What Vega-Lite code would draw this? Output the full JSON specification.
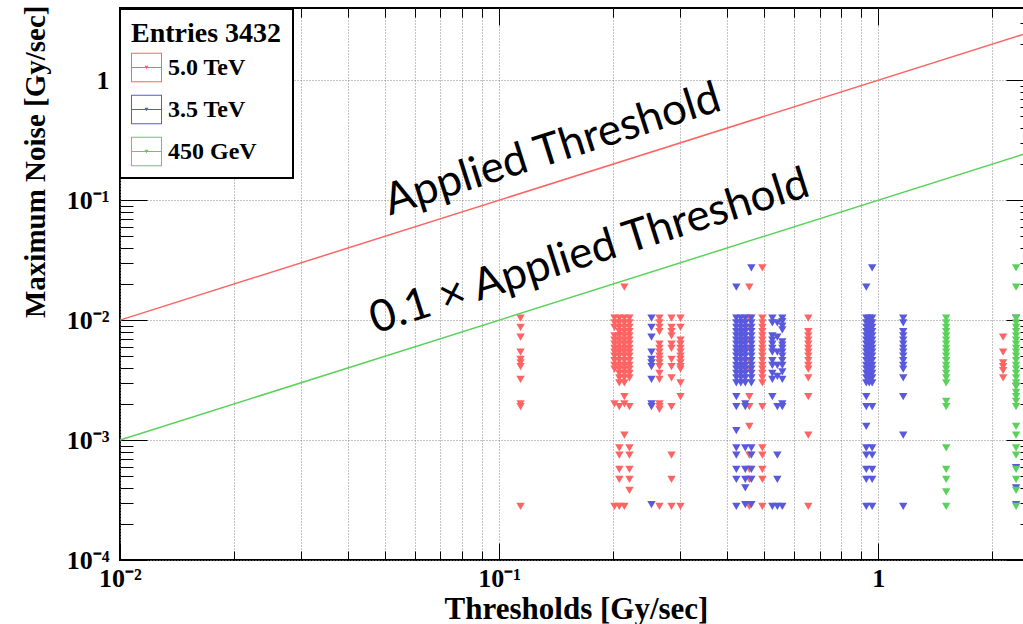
{
"$schema": "https://vega.github.io/schema/vega-lite/v6.json",
"width": 913, "height": 552,
"autosize": {"type": "none"},
"padding": {"left": 120, "top": 8, "right": -10, "bottom": 64},
"background": "white",
"config": {"view": {"stroke": "black", "strokeWidth": 2}, "legend": {"strokeWidth": 2}},
"datasets": {
"pts": [
{"t":0.1139,"n":0.0104,"e":"5.0 TeV"},{"t":0.1139,"n":0.0087,"e":"5.0 TeV"},{"t":0.1139,"n":0.0072,"e":"5.0 TeV"},{"t":0.1139,"n":0.0054,"e":"5.0 TeV"},{"t":0.1139,"n":0.0047,"e":"5.0 TeV"},{"t":0.1139,"n":0.0044,"e":"5.0 TeV"},{"t":0.1139,"n":0.0041,"e":"5.0 TeV"},{"t":0.1139,"n":0.0032,"e":"5.0 TeV"},{"t":0.1139,"n":0.002,"e":"5.0 TeV"},{"t":0.1139,"n":0.0019,"e":"5.0 TeV"},{"t":0.1139,"n":0.00028,"e":"5.0 TeV"},
{"t":0.2015,"n":0.0104,"e":"5.0 TeV"},{"t":0.2015,"n":0.0095,"e":"5.0 TeV"},{"t":0.2015,"n":0.0087,"e":"5.0 TeV"},{"t":0.2015,"n":0.0074,"e":"5.0 TeV"},{"t":0.2015,"n":0.0068,"e":"5.0 TeV"},{"t":0.2015,"n":0.0063,"e":"5.0 TeV"},{"t":0.2015,"n":0.0058,"e":"5.0 TeV"},{"t":0.2015,"n":0.0054,"e":"5.0 TeV"},{"t":0.2015,"n":0.005,"e":"5.0 TeV"},{"t":0.2015,"n":0.0046,"e":"5.0 TeV"},{"t":0.2015,"n":0.0042,"e":"5.0 TeV"},{"t":0.2015,"n":0.0039,"e":"5.0 TeV"},{"t":0.2015,"n":0.002,"e":"5.0 TeV"},{"t":0.2015,"n":0.00028,"e":"5.0 TeV"},
{"t":0.2075,"n":0.0104,"e":"5.0 TeV"},{"t":0.2075,"n":0.0095,"e":"5.0 TeV"},{"t":0.2075,"n":0.0087,"e":"5.0 TeV"},{"t":0.2075,"n":0.008,"e":"5.0 TeV"},{"t":0.2075,"n":0.0074,"e":"5.0 TeV"},{"t":0.2075,"n":0.0068,"e":"5.0 TeV"},{"t":0.2075,"n":0.0063,"e":"5.0 TeV"},{"t":0.2075,"n":0.0058,"e":"5.0 TeV"},{"t":0.2075,"n":0.0054,"e":"5.0 TeV"},{"t":0.2075,"n":0.005,"e":"5.0 TeV"},{"t":0.2075,"n":0.0046,"e":"5.0 TeV"},{"t":0.2075,"n":0.0042,"e":"5.0 TeV"},{"t":0.2075,"n":0.0039,"e":"5.0 TeV"},{"t":0.2075,"n":0.0036,"e":"5.0 TeV"},{"t":0.2075,"n":0.0033,"e":"5.0 TeV"},{"t":0.2075,"n":0.003,"e":"5.0 TeV"},{"t":0.2075,"n":0.0019,"e":"5.0 TeV"},{"t":0.2075,"n":0.00086,"e":"5.0 TeV"},{"t":0.2075,"n":0.00075,"e":"5.0 TeV"},{"t":0.2075,"n":0.00057,"e":"5.0 TeV"},{"t":0.2075,"n":0.00047,"e":"5.0 TeV"},{"t":0.2075,"n":0.00028,"e":"5.0 TeV"},
{"t":0.214,"n":0.0188,"e":"5.0 TeV"},{"t":0.214,"n":0.0104,"e":"5.0 TeV"},{"t":0.214,"n":0.0095,"e":"5.0 TeV"},{"t":0.214,"n":0.0087,"e":"5.0 TeV"},{"t":0.214,"n":0.008,"e":"5.0 TeV"},{"t":0.214,"n":0.0074,"e":"5.0 TeV"},{"t":0.214,"n":0.0068,"e":"5.0 TeV"},{"t":0.214,"n":0.0063,"e":"5.0 TeV"},{"t":0.214,"n":0.0058,"e":"5.0 TeV"},{"t":0.214,"n":0.0054,"e":"5.0 TeV"},{"t":0.214,"n":0.005,"e":"5.0 TeV"},{"t":0.214,"n":0.0046,"e":"5.0 TeV"},{"t":0.214,"n":0.0042,"e":"5.0 TeV"},{"t":0.214,"n":0.0039,"e":"5.0 TeV"},{"t":0.214,"n":0.0036,"e":"5.0 TeV"},{"t":0.214,"n":0.0033,"e":"5.0 TeV"},{"t":0.214,"n":0.003,"e":"5.0 TeV"},{"t":0.214,"n":0.0023,"e":"5.0 TeV"},{"t":0.214,"n":0.002,"e":"5.0 TeV"},{"t":0.214,"n":0.0011,"e":"5.0 TeV"},{"t":0.214,"n":0.00028,"e":"5.0 TeV"},
{"t":0.2207,"n":0.0104,"e":"5.0 TeV"},{"t":0.2207,"n":0.0095,"e":"5.0 TeV"},{"t":0.2207,"n":0.0087,"e":"5.0 TeV"},{"t":0.2207,"n":0.008,"e":"5.0 TeV"},{"t":0.2207,"n":0.0074,"e":"5.0 TeV"},{"t":0.2207,"n":0.0068,"e":"5.0 TeV"},{"t":0.2207,"n":0.0063,"e":"5.0 TeV"},{"t":0.2207,"n":0.0058,"e":"5.0 TeV"},{"t":0.2207,"n":0.0054,"e":"5.0 TeV"},{"t":0.2207,"n":0.005,"e":"5.0 TeV"},{"t":0.2207,"n":0.0046,"e":"5.0 TeV"},{"t":0.2207,"n":0.0042,"e":"5.0 TeV"},{"t":0.2207,"n":0.0039,"e":"5.0 TeV"},{"t":0.2207,"n":0.0036,"e":"5.0 TeV"},{"t":0.2207,"n":0.0033,"e":"5.0 TeV"},{"t":0.2207,"n":0.0019,"e":"5.0 TeV"},{"t":0.2207,"n":0.00086,"e":"5.0 TeV"},{"t":0.2207,"n":0.00075,"e":"5.0 TeV"},{"t":0.2207,"n":0.00057,"e":"5.0 TeV"},{"t":0.2207,"n":0.00047,"e":"5.0 TeV"},{"t":0.2207,"n":0.00038,"e":"5.0 TeV"},
{"t":0.2648,"n":0.0104,"e":"5.0 TeV"},{"t":0.2648,"n":0.0095,"e":"5.0 TeV"},{"t":0.2648,"n":0.0087,"e":"5.0 TeV"},{"t":0.2648,"n":0.008,"e":"5.0 TeV"},{"t":0.2648,"n":0.0063,"e":"5.0 TeV"},{"t":0.2648,"n":0.0058,"e":"5.0 TeV"},{"t":0.2648,"n":0.0054,"e":"5.0 TeV"},{"t":0.2648,"n":0.005,"e":"5.0 TeV"},{"t":0.2648,"n":0.0047,"e":"5.0 TeV"},{"t":0.2648,"n":0.0044,"e":"5.0 TeV"},{"t":0.2648,"n":0.0041,"e":"5.0 TeV"},{"t":0.2648,"n":0.0036,"e":"5.0 TeV"},{"t":0.2648,"n":0.0032,"e":"5.0 TeV"},{"t":0.2648,"n":0.002,"e":"5.0 TeV"},{"t":0.2648,"n":0.0019,"e":"5.0 TeV"},{"t":0.2648,"n":0.0018,"e":"5.0 TeV"},{"t":0.2648,"n":0.00028,"e":"5.0 TeV"},
{"t":0.2849,"n":0.0104,"e":"5.0 TeV"},{"t":0.2849,"n":0.0087,"e":"5.0 TeV"},{"t":0.2849,"n":0.008,"e":"5.0 TeV"},{"t":0.2849,"n":0.0074,"e":"5.0 TeV"},{"t":0.2849,"n":0.0063,"e":"5.0 TeV"},{"t":0.2849,"n":0.0058,"e":"5.0 TeV"},{"t":0.2849,"n":0.0047,"e":"5.0 TeV"},{"t":0.2849,"n":0.0041,"e":"5.0 TeV"},{"t":0.2849,"n":0.0033,"e":"5.0 TeV"},{"t":0.2849,"n":0.0019,"e":"5.0 TeV"},{"t":0.2849,"n":0.00075,"e":"5.0 TeV"},{"t":0.2849,"n":0.00047,"e":"5.0 TeV"},{"t":0.2849,"n":0.00028,"e":"5.0 TeV"},
{"t":0.3009,"n":0.0104,"e":"5.0 TeV"},{"t":0.3009,"n":0.0087,"e":"5.0 TeV"},{"t":0.3009,"n":0.0068,"e":"5.0 TeV"},{"t":0.3009,"n":0.0063,"e":"5.0 TeV"},{"t":0.3009,"n":0.0058,"e":"5.0 TeV"},{"t":0.3009,"n":0.0054,"e":"5.0 TeV"},{"t":0.3009,"n":0.005,"e":"5.0 TeV"},{"t":0.3009,"n":0.0047,"e":"5.0 TeV"},{"t":0.3009,"n":0.0044,"e":"5.0 TeV"},{"t":0.3009,"n":0.0041,"e":"5.0 TeV"},{"t":0.3009,"n":0.0039,"e":"5.0 TeV"},{"t":0.3009,"n":0.003,"e":"5.0 TeV"},{"t":0.3009,"n":0.0023,"e":"5.0 TeV"},{"t":0.3009,"n":0.00028,"e":"5.0 TeV"},
{"t":0.4571,"n":0.0188,"e":"5.0 TeV"},{"t":0.4571,"n":0.0104,"e":"5.0 TeV"},{"t":0.4571,"n":0.0087,"e":"5.0 TeV"},{"t":0.4571,"n":0.0068,"e":"5.0 TeV"},{"t":0.4571,"n":0.0058,"e":"5.0 TeV"},{"t":0.4571,"n":0.0046,"e":"5.0 TeV"},{"t":0.4571,"n":0.0039,"e":"5.0 TeV"},{"t":0.4571,"n":0.0023,"e":"5.0 TeV"},{"t":0.4571,"n":0.0019,"e":"5.0 TeV"},{"t":0.4571,"n":0.0013,"e":"5.0 TeV"},{"t":0.4571,"n":0.00075,"e":"5.0 TeV"},{"t":0.4571,"n":0.00057,"e":"5.0 TeV"},{"t":0.4571,"n":0.00047,"e":"5.0 TeV"},{"t":0.4571,"n":0.00028,"e":"5.0 TeV"},
{"t":0.4947,"n":0.0273,"e":"5.0 TeV"},{"t":0.4947,"n":0.0104,"e":"5.0 TeV"},{"t":0.4947,"n":0.0095,"e":"5.0 TeV"},{"t":0.4947,"n":0.0087,"e":"5.0 TeV"},{"t":0.4947,"n":0.008,"e":"5.0 TeV"},{"t":0.4947,"n":0.0074,"e":"5.0 TeV"},{"t":0.4947,"n":0.0068,"e":"5.0 TeV"},{"t":0.4947,"n":0.0063,"e":"5.0 TeV"},{"t":0.4947,"n":0.0058,"e":"5.0 TeV"},{"t":0.4947,"n":0.0054,"e":"5.0 TeV"},{"t":0.4947,"n":0.005,"e":"5.0 TeV"},{"t":0.4947,"n":0.0046,"e":"5.0 TeV"},{"t":0.4947,"n":0.0042,"e":"5.0 TeV"},{"t":0.4947,"n":0.0039,"e":"5.0 TeV"},{"t":0.4947,"n":0.0036,"e":"5.0 TeV"},{"t":0.4947,"n":0.0033,"e":"5.0 TeV"},{"t":0.4947,"n":0.003,"e":"5.0 TeV"},{"t":0.4947,"n":0.0019,"e":"5.0 TeV"},{"t":0.4947,"n":0.00086,"e":"5.0 TeV"},{"t":0.4947,"n":0.00075,"e":"5.0 TeV"},{"t":0.4947,"n":0.00057,"e":"5.0 TeV"},{"t":0.4947,"n":0.00047,"e":"5.0 TeV"},{"t":0.4947,"n":0.00028,"e":"5.0 TeV"},
{"t":0.654,"n":0.0104,"e":"5.0 TeV"},{"t":0.654,"n":0.008,"e":"5.0 TeV"},{"t":0.654,"n":0.0074,"e":"5.0 TeV"},{"t":0.654,"n":0.0068,"e":"5.0 TeV"},{"t":0.654,"n":0.0063,"e":"5.0 TeV"},{"t":0.654,"n":0.0058,"e":"5.0 TeV"},{"t":0.654,"n":0.0054,"e":"5.0 TeV"},{"t":0.654,"n":0.005,"e":"5.0 TeV"},{"t":0.654,"n":0.0046,"e":"5.0 TeV"},{"t":0.654,"n":0.0042,"e":"5.0 TeV"},{"t":0.654,"n":0.0039,"e":"5.0 TeV"},{"t":0.654,"n":0.0033,"e":"5.0 TeV"},{"t":0.654,"n":0.0023,"e":"5.0 TeV"},{"t":0.654,"n":0.0011,"e":"5.0 TeV"},{"t":0.654,"n":0.00028,"e":"5.0 TeV"},
{"t":2.135,"n":0.0072,"e":"5.0 TeV"},{"t":2.135,"n":0.0054,"e":"5.0 TeV"},{"t":2.135,"n":0.0044,"e":"5.0 TeV"},{"t":2.135,"n":0.0041,"e":"5.0 TeV"},{"t":2.135,"n":0.0038,"e":"5.0 TeV"},{"t":2.135,"n":0.0033,"e":"5.0 TeV"},
{"t":0.2523,"n":0.0104,"e":"3.5 TeV"},{"t":0.2523,"n":0.0087,"e":"3.5 TeV"},{"t":0.2523,"n":0.0072,"e":"3.5 TeV"},{"t":0.2523,"n":0.0054,"e":"3.5 TeV"},{"t":0.2523,"n":0.0047,"e":"3.5 TeV"},{"t":0.2523,"n":0.0044,"e":"3.5 TeV"},{"t":0.2523,"n":0.0041,"e":"3.5 TeV"},{"t":0.2523,"n":0.0032,"e":"3.5 TeV"},{"t":0.2523,"n":0.002,"e":"3.5 TeV"},{"t":0.2523,"n":0.0019,"e":"3.5 TeV"},{"t":0.2523,"n":0.00029,"e":"3.5 TeV"},
{"t":0.4224,"n":0.0188,"e":"3.5 TeV"},{"t":0.4224,"n":0.0104,"e":"3.5 TeV"},{"t":0.4224,"n":0.0095,"e":"3.5 TeV"},{"t":0.4224,"n":0.0087,"e":"3.5 TeV"},{"t":0.4224,"n":0.008,"e":"3.5 TeV"},{"t":0.4224,"n":0.0074,"e":"3.5 TeV"},{"t":0.4224,"n":0.0068,"e":"3.5 TeV"},{"t":0.4224,"n":0.0063,"e":"3.5 TeV"},{"t":0.4224,"n":0.0058,"e":"3.5 TeV"},{"t":0.4224,"n":0.0054,"e":"3.5 TeV"},{"t":0.4224,"n":0.005,"e":"3.5 TeV"},{"t":0.4224,"n":0.0046,"e":"3.5 TeV"},{"t":0.4224,"n":0.0042,"e":"3.5 TeV"},{"t":0.4224,"n":0.0039,"e":"3.5 TeV"},{"t":0.4224,"n":0.0036,"e":"3.5 TeV"},{"t":0.4224,"n":0.0033,"e":"3.5 TeV"},{"t":0.4224,"n":0.003,"e":"3.5 TeV"},{"t":0.4224,"n":0.0023,"e":"3.5 TeV"},{"t":0.4224,"n":0.0019,"e":"3.5 TeV"},{"t":0.4224,"n":0.0012,"e":"3.5 TeV"},{"t":0.4224,"n":0.00086,"e":"3.5 TeV"},{"t":0.4224,"n":0.00075,"e":"3.5 TeV"},{"t":0.4224,"n":0.00057,"e":"3.5 TeV"},{"t":0.4224,"n":0.00047,"e":"3.5 TeV"},{"t":0.4224,"n":0.00028,"e":"3.5 TeV"},
{"t":0.434,"n":0.0104,"e":"3.5 TeV"},{"t":0.434,"n":0.0095,"e":"3.5 TeV"},{"t":0.434,"n":0.0087,"e":"3.5 TeV"},{"t":0.434,"n":0.008,"e":"3.5 TeV"},{"t":0.434,"n":0.0074,"e":"3.5 TeV"},{"t":0.434,"n":0.0068,"e":"3.5 TeV"},{"t":0.434,"n":0.0063,"e":"3.5 TeV"},{"t":0.434,"n":0.0058,"e":"3.5 TeV"},{"t":0.434,"n":0.0054,"e":"3.5 TeV"},{"t":0.434,"n":0.005,"e":"3.5 TeV"},{"t":0.434,"n":0.0046,"e":"3.5 TeV"},{"t":0.434,"n":0.0042,"e":"3.5 TeV"},{"t":0.434,"n":0.0039,"e":"3.5 TeV"},{"t":0.434,"n":0.0036,"e":"3.5 TeV"},{"t":0.434,"n":0.0033,"e":"3.5 TeV"},{"t":0.434,"n":0.003,"e":"3.5 TeV"},
{"t":0.446,"n":0.0104,"e":"3.5 TeV"},{"t":0.446,"n":0.0095,"e":"3.5 TeV"},{"t":0.446,"n":0.0087,"e":"3.5 TeV"},{"t":0.446,"n":0.008,"e":"3.5 TeV"},{"t":0.446,"n":0.0074,"e":"3.5 TeV"},{"t":0.446,"n":0.0068,"e":"3.5 TeV"},{"t":0.446,"n":0.0063,"e":"3.5 TeV"},{"t":0.446,"n":0.0058,"e":"3.5 TeV"},{"t":0.446,"n":0.0054,"e":"3.5 TeV"},{"t":0.446,"n":0.005,"e":"3.5 TeV"},{"t":0.446,"n":0.0046,"e":"3.5 TeV"},{"t":0.446,"n":0.0042,"e":"3.5 TeV"},{"t":0.446,"n":0.0039,"e":"3.5 TeV"},{"t":0.446,"n":0.0036,"e":"3.5 TeV"},{"t":0.446,"n":0.0033,"e":"3.5 TeV"},{"t":0.446,"n":0.003,"e":"3.5 TeV"},{"t":0.446,"n":0.002,"e":"3.5 TeV"},{"t":0.446,"n":0.0019,"e":"3.5 TeV"},{"t":0.446,"n":0.00086,"e":"3.5 TeV"},{"t":0.446,"n":0.00057,"e":"3.5 TeV"},{"t":0.446,"n":0.00047,"e":"3.5 TeV"},{"t":0.446,"n":0.0004,"e":"3.5 TeV"},{"t":0.446,"n":0.00029,"e":"3.5 TeV"},
{"t":0.4628,"n":0.0273,"e":"3.5 TeV"},{"t":0.4628,"n":0.0104,"e":"3.5 TeV"},{"t":0.4628,"n":0.0095,"e":"3.5 TeV"},{"t":0.4628,"n":0.0087,"e":"3.5 TeV"},{"t":0.4628,"n":0.008,"e":"3.5 TeV"},{"t":0.4628,"n":0.0074,"e":"3.5 TeV"},{"t":0.4628,"n":0.0068,"e":"3.5 TeV"},{"t":0.4628,"n":0.0063,"e":"3.5 TeV"},{"t":0.4628,"n":0.0058,"e":"3.5 TeV"},{"t":0.4628,"n":0.0054,"e":"3.5 TeV"},{"t":0.4628,"n":0.005,"e":"3.5 TeV"},{"t":0.4628,"n":0.0046,"e":"3.5 TeV"},{"t":0.4628,"n":0.0042,"e":"3.5 TeV"},{"t":0.4628,"n":0.0039,"e":"3.5 TeV"},{"t":0.4628,"n":0.0036,"e":"3.5 TeV"},{"t":0.4628,"n":0.0033,"e":"3.5 TeV"},{"t":0.4628,"n":0.003,"e":"3.5 TeV"},{"t":0.4628,"n":0.00086,"e":"3.5 TeV"},{"t":0.4628,"n":0.00075,"e":"3.5 TeV"},{"t":0.4628,"n":0.00057,"e":"3.5 TeV"},{"t":0.4628,"n":0.00047,"e":"3.5 TeV"},{"t":0.4628,"n":0.00029,"e":"3.5 TeV"},
{"t":0.5257,"n":0.0104,"e":"3.5 TeV"},{"t":0.5257,"n":0.0095,"e":"3.5 TeV"},{"t":0.5257,"n":0.0074,"e":"3.5 TeV"},{"t":0.5257,"n":0.0068,"e":"3.5 TeV"},{"t":0.5257,"n":0.0063,"e":"3.5 TeV"},{"t":0.5257,"n":0.0058,"e":"3.5 TeV"},{"t":0.5257,"n":0.0054,"e":"3.5 TeV"},{"t":0.5257,"n":0.0046,"e":"3.5 TeV"},{"t":0.5257,"n":0.0042,"e":"3.5 TeV"},{"t":0.5257,"n":0.0036,"e":"3.5 TeV"},{"t":0.5257,"n":0.0032,"e":"3.5 TeV"},{"t":0.5257,"n":0.0023,"e":"3.5 TeV"},{"t":0.5257,"n":0.00028,"e":"3.5 TeV"},
{"t":0.5419,"n":0.0095,"e":"3.5 TeV"},{"t":0.5419,"n":0.0072,"e":"3.5 TeV"},{"t":0.5419,"n":0.0054,"e":"3.5 TeV"},{"t":0.5419,"n":0.0042,"e":"3.5 TeV"},{"t":0.5419,"n":0.0034,"e":"3.5 TeV"},{"t":0.5419,"n":0.0019,"e":"3.5 TeV"},{"t":0.5419,"n":0.00075,"e":"3.5 TeV"},{"t":0.5419,"n":0.00047,"e":"3.5 TeV"},{"t":0.5419,"n":0.00028,"e":"3.5 TeV"},
{"t":0.5585,"n":0.0104,"e":"3.5 TeV"},{"t":0.5585,"n":0.0097,"e":"3.5 TeV"},{"t":0.5585,"n":0.0089,"e":"3.5 TeV"},{"t":0.5585,"n":0.0083,"e":"3.5 TeV"},{"t":0.5585,"n":0.0066,"e":"3.5 TeV"},{"t":0.5585,"n":0.0062,"e":"3.5 TeV"},{"t":0.5585,"n":0.0058,"e":"3.5 TeV"},{"t":0.5585,"n":0.0054,"e":"3.5 TeV"},{"t":0.5585,"n":0.005,"e":"3.5 TeV"},{"t":0.5585,"n":0.0046,"e":"3.5 TeV"},{"t":0.5585,"n":0.0042,"e":"3.5 TeV"},{"t":0.5585,"n":0.0037,"e":"3.5 TeV"},{"t":0.5585,"n":0.0032,"e":"3.5 TeV"},{"t":0.5585,"n":0.002,"e":"3.5 TeV"},{"t":0.5585,"n":0.0019,"e":"3.5 TeV"},{"t":0.5585,"n":0.00028,"e":"3.5 TeV"},
{"t":0.93,"n":0.0188,"e":"3.5 TeV"},{"t":0.93,"n":0.0104,"e":"3.5 TeV"},{"t":0.93,"n":0.0095,"e":"3.5 TeV"},{"t":0.93,"n":0.0087,"e":"3.5 TeV"},{"t":0.93,"n":0.008,"e":"3.5 TeV"},{"t":0.93,"n":0.0074,"e":"3.5 TeV"},{"t":0.93,"n":0.0068,"e":"3.5 TeV"},{"t":0.93,"n":0.0063,"e":"3.5 TeV"},{"t":0.93,"n":0.0058,"e":"3.5 TeV"},{"t":0.93,"n":0.0054,"e":"3.5 TeV"},{"t":0.93,"n":0.005,"e":"3.5 TeV"},{"t":0.93,"n":0.0046,"e":"3.5 TeV"},{"t":0.93,"n":0.0042,"e":"3.5 TeV"},{"t":0.93,"n":0.0039,"e":"3.5 TeV"},{"t":0.93,"n":0.0036,"e":"3.5 TeV"},{"t":0.93,"n":0.0033,"e":"3.5 TeV"},{"t":0.93,"n":0.003,"e":"3.5 TeV"},{"t":0.93,"n":0.0023,"e":"3.5 TeV"},{"t":0.93,"n":0.0019,"e":"3.5 TeV"},{"t":0.93,"n":0.0013,"e":"3.5 TeV"},{"t":0.93,"n":0.00086,"e":"3.5 TeV"},{"t":0.93,"n":0.00075,"e":"3.5 TeV"},{"t":0.93,"n":0.00057,"e":"3.5 TeV"},{"t":0.93,"n":0.00047,"e":"3.5 TeV"},{"t":0.93,"n":0.00028,"e":"3.5 TeV"},
{"t":0.947,"n":0.0104,"e":"3.5 TeV"},{"t":0.947,"n":0.0095,"e":"3.5 TeV"},{"t":0.947,"n":0.0087,"e":"3.5 TeV"},{"t":0.947,"n":0.008,"e":"3.5 TeV"},{"t":0.947,"n":0.0074,"e":"3.5 TeV"},{"t":0.947,"n":0.0068,"e":"3.5 TeV"},{"t":0.947,"n":0.0063,"e":"3.5 TeV"},{"t":0.947,"n":0.0058,"e":"3.5 TeV"},{"t":0.947,"n":0.0054,"e":"3.5 TeV"},{"t":0.947,"n":0.005,"e":"3.5 TeV"},{"t":0.947,"n":0.0046,"e":"3.5 TeV"},{"t":0.947,"n":0.0042,"e":"3.5 TeV"},{"t":0.947,"n":0.0039,"e":"3.5 TeV"},{"t":0.947,"n":0.0036,"e":"3.5 TeV"},{"t":0.947,"n":0.0033,"e":"3.5 TeV"},{"t":0.947,"n":0.003,"e":"3.5 TeV"},
{"t":0.964,"n":0.0273,"e":"3.5 TeV"},{"t":0.964,"n":0.0104,"e":"3.5 TeV"},{"t":0.964,"n":0.0095,"e":"3.5 TeV"},{"t":0.964,"n":0.0087,"e":"3.5 TeV"},{"t":0.964,"n":0.008,"e":"3.5 TeV"},{"t":0.964,"n":0.0074,"e":"3.5 TeV"},{"t":0.964,"n":0.0068,"e":"3.5 TeV"},{"t":0.964,"n":0.0063,"e":"3.5 TeV"},{"t":0.964,"n":0.0058,"e":"3.5 TeV"},{"t":0.964,"n":0.0054,"e":"3.5 TeV"},{"t":0.964,"n":0.005,"e":"3.5 TeV"},{"t":0.964,"n":0.0046,"e":"3.5 TeV"},{"t":0.964,"n":0.0042,"e":"3.5 TeV"},{"t":0.964,"n":0.0039,"e":"3.5 TeV"},{"t":0.964,"n":0.0036,"e":"3.5 TeV"},{"t":0.964,"n":0.0033,"e":"3.5 TeV"},{"t":0.964,"n":0.003,"e":"3.5 TeV"},{"t":0.964,"n":0.0019,"e":"3.5 TeV"},{"t":0.964,"n":0.00086,"e":"3.5 TeV"},{"t":0.964,"n":0.00075,"e":"3.5 TeV"},{"t":0.964,"n":0.00057,"e":"3.5 TeV"},{"t":0.964,"n":0.00047,"e":"3.5 TeV"},{"t":0.964,"n":0.00028,"e":"3.5 TeV"},
{"t":1.164,"n":0.0104,"e":"3.5 TeV"},{"t":1.164,"n":0.0095,"e":"3.5 TeV"},{"t":1.164,"n":0.008,"e":"3.5 TeV"},{"t":1.164,"n":0.0074,"e":"3.5 TeV"},{"t":1.164,"n":0.0068,"e":"3.5 TeV"},{"t":1.164,"n":0.0063,"e":"3.5 TeV"},{"t":1.164,"n":0.0058,"e":"3.5 TeV"},{"t":1.164,"n":0.0054,"e":"3.5 TeV"},{"t":1.164,"n":0.005,"e":"3.5 TeV"},{"t":1.164,"n":0.0046,"e":"3.5 TeV"},{"t":1.164,"n":0.0042,"e":"3.5 TeV"},{"t":1.164,"n":0.0039,"e":"3.5 TeV"},{"t":1.164,"n":0.0033,"e":"3.5 TeV"},{"t":1.164,"n":0.0023,"e":"3.5 TeV"},{"t":1.164,"n":0.0011,"e":"3.5 TeV"},{"t":1.164,"n":0.00028,"e":"3.5 TeV"},
{"t":2.31,"n":0.0104,"e":"3.5 TeV"},{"t":2.31,"n":0.0028,"e":"3.5 TeV"},{"t":2.31,"n":0.00059,"e":"3.5 TeV"},{"t":2.31,"n":0.0004,"e":"3.5 TeV"},{"t":2.31,"n":0.00029,"e":"3.5 TeV"},
{"t":1.511,"n":0.0104,"e":"450 GeV"},{"t":1.511,"n":0.0095,"e":"450 GeV"},{"t":1.511,"n":0.0087,"e":"450 GeV"},{"t":1.511,"n":0.008,"e":"450 GeV"},{"t":1.511,"n":0.0074,"e":"450 GeV"},{"t":1.511,"n":0.0068,"e":"450 GeV"},{"t":1.511,"n":0.0063,"e":"450 GeV"},{"t":1.511,"n":0.0058,"e":"450 GeV"},{"t":1.511,"n":0.0054,"e":"450 GeV"},{"t":1.511,"n":0.005,"e":"450 GeV"},{"t":1.511,"n":0.0046,"e":"450 GeV"},{"t":1.511,"n":0.0042,"e":"450 GeV"},{"t":1.511,"n":0.0039,"e":"450 GeV"},{"t":1.511,"n":0.0036,"e":"450 GeV"},{"t":1.511,"n":0.0033,"e":"450 GeV"},{"t":1.511,"n":0.003,"e":"450 GeV"},{"t":1.511,"n":0.0021,"e":"450 GeV"},{"t":1.511,"n":0.0019,"e":"450 GeV"},{"t":1.511,"n":0.00086,"e":"450 GeV"},{"t":1.511,"n":0.00057,"e":"450 GeV"},{"t":1.511,"n":0.00047,"e":"450 GeV"},{"t":1.511,"n":0.00037,"e":"450 GeV"},{"t":1.511,"n":0.00028,"e":"450 GeV"},
{"t":2.31,"n":0.0273,"e":"450 GeV"},{"t":2.31,"n":0.0188,"e":"450 GeV"},{"t":2.31,"n":0.0104,"e":"450 GeV"},{"t":2.31,"n":0.0095,"e":"450 GeV"},{"t":2.31,"n":0.0087,"e":"450 GeV"},{"t":2.31,"n":0.008,"e":"450 GeV"},{"t":2.31,"n":0.0074,"e":"450 GeV"},{"t":2.31,"n":0.0068,"e":"450 GeV"},{"t":2.31,"n":0.0063,"e":"450 GeV"},{"t":2.31,"n":0.0058,"e":"450 GeV"},{"t":2.31,"n":0.0054,"e":"450 GeV"},{"t":2.31,"n":0.005,"e":"450 GeV"},{"t":2.31,"n":0.0046,"e":"450 GeV"},{"t":2.31,"n":0.0042,"e":"450 GeV"},{"t":2.31,"n":0.0039,"e":"450 GeV"},{"t":2.31,"n":0.0036,"e":"450 GeV"},{"t":2.31,"n":0.0033,"e":"450 GeV"},{"t":2.31,"n":0.003,"e":"450 GeV"},{"t":2.31,"n":0.0028,"e":"450 GeV"},{"t":2.31,"n":0.0025,"e":"450 GeV"},{"t":2.31,"n":0.0023,"e":"450 GeV"},{"t":2.31,"n":0.0021,"e":"450 GeV"},{"t":2.31,"n":0.0019,"e":"450 GeV"},{"t":2.31,"n":0.0013,"e":"450 GeV"},{"t":2.31,"n":0.0011,"e":"450 GeV"},{"t":2.31,"n":0.00086,"e":"450 GeV"},{"t":2.31,"n":0.00075,"e":"450 GeV"},{"t":2.31,"n":0.00057,"e":"450 GeV"},{"t":2.31,"n":0.00047,"e":"450 GeV"},{"t":2.31,"n":0.00038,"e":"450 GeV"},{"t":2.31,"n":0.00028,"e":"450 GeV"}
],
"redline": [{"t":0.01,"n":0.01},{"t":2.56,"n":2.56}],
"greenline": [{"t":0.01,"n":0.001},{"t":2.56,"n":0.256}],
"ann": [{"t":0.1383,"n":0.261,"s":"Applied Threshold"},{"t":0.1732,"n":0.0369,"s":"0.1 × Applied Threshold"}]
},
"layer": [
{
"data": {"name": "pts"},
"mark": {"type": "point", "shape": "triangle-down", "filled": true, "opacity": 1, "size": 70, "strokeWidth": 0},
"encoding": {
"x": {"field": "t", "type": "quantitative",
 "scale": {"type": "log", "domain": [0.01, 2.56], "nice": false},
 "axis": {"orient": "bottom", "values": [0.01,0.02,0.03,0.04,0.05,0.06,0.07,0.08,0.09,0.1,0.2,0.3,0.4,0.5,0.6,0.7,0.8,0.9,1,2],
  "grid": true, "gridColor": "#888", "gridDash": [1,2], "gridWidth": 1, "domain": false,
  "tickColor": "black", "tickWidth": 1,
  "tickSize": {"condition": {"test": "datum.value==0.01||datum.value==0.1||datum.value==1", "value": -17}, "value": -9},
  "labelExpr": "datum.value==0.01?'10⁻²':datum.value==0.1?'10⁻¹':datum.value==1?'1':''",
  "labelFont": "Liberation Serif", "labelFontWeight": "bold", "labelFontSize": 26, "labelColor": "black",
  "labelPadding": 22, "labelOverlap": false, "labelBound": false, "labelFlush": false,
  "title": "Thresholds [Gy/sec]", "titleFont": "Liberation Serif", "titleFontWeight": "bold", "titleFontSize": 31, "titleColor": "black",
  "titleX": 456, "titleY": 58, "titleAlign": "center", "titleBaseline": "alphabetic"}},
"y": {"field": "n", "type": "quantitative",
 "scale": {"type": "log", "domain": [0.0001, 4], "nice": false},
 "axis": {"orient": "left", "values": [0.0001,0.0002,0.0003,0.0004,0.0005,0.0006,0.0007,0.0008,0.0009,0.001,0.002,0.003,0.004,0.005,0.006,0.007,0.008,0.009,0.01,0.02,0.03,0.04,0.05,0.06,0.07,0.08,0.09,0.1,0.2,0.3,0.4,0.5,0.6,0.7,0.8,0.9,1,2,3],
  "grid": true, "gridColor": "#888", "gridDash": [1,2], "gridWidth": 1,
  "gridOpacity": {"condition": {"test": "datum.value==0.0001||datum.value==0.001||datum.value==0.01||datum.value==0.1||datum.value==1", "value": 1}, "value": 0},
  "domain": false, "tickColor": "black", "tickWidth": 1,
  "tickSize": {"condition": {"test": "datum.value==0.0001||datum.value==0.001||datum.value==0.01||datum.value==0.1||datum.value==1", "value": -27}, "value": -13},
  "labelExpr": "datum.value==0.0001?'10⁻⁴':datum.value==0.001?'10⁻³':datum.value==0.01?'10⁻²':datum.value==0.1?'10⁻¹':datum.value==1?'1':''",
  "labelFont": "Liberation Serif", "labelFontWeight": "bold", "labelFontSize": 26, "labelColor": "black",
  "labelPadding": 38, "labelOverlap": false, "labelBound": false, "labelFlush": false,
  "title": "Maximum Noise [Gy/sec]", "titleFont": "Liberation Serif", "titleFontWeight": "bold", "titleFontSize": 29, "titleColor": "black",
  "titleAngle": 270, "titleX": -85, "titleY": -3, "titleAlign": "right", "titleBaseline": "middle"}},
"color": {"field": "e", "type": "nominal",
 "scale": {"domain": ["5.0 TeV", "3.5 TeV", "450 GeV"], "range": ["#FF6464", "#5959DE", "#5AD25A"]},
 "legend": {"title": "Entries 3432", "orient": "none", "legendX": 0, "legendY": 1,
  "fillColor": "white", "strokeColor": "black", "padding": 11,
  "titleFont": "Liberation Serif", "titleFontSize": 28, "titleFontWeight": "bold", "titleColor": "black", "titlePadding": 4,
  "labelFont": "Liberation Serif", "labelFontSize": 24, "labelFontWeight": "bold", "labelColor": "black", "labelOffset": 6,
  "symbolType": "M-1,-0.95H1V-0.885H-1Z M-1,0.885H1V0.95H-1Z M-1,-0.95H-0.935V0.95H-1Z M0.935,-0.95H1V0.95H0.935Z M-1,-0.035H1V0.035H-1Z M-0.13,-0.12H0.13L0,0.12Z",
  "symbolSize": 961, "symbolStrokeWidth": 0, "rowPadding": 11}}
}
},
{
"data": {"name": "redline"},
"mark": {"type": "line", "color": "#FF6464", "strokeWidth": 1.5},
"encoding": {
"x": {"field": "t", "type": "quantitative",
 "axis": {"orient": "top", "values": [0.01,0.02,0.03,0.04,0.05,0.06,0.07,0.08,0.09,0.1,0.2,0.3,0.4,0.5,0.6,0.7,0.8,0.9,1,2],
  "grid": false, "domain": false, "labels": false, "title": null, "tickColor": "black", "tickWidth": 1,
  "tickSize": {"condition": {"test": "datum.value==0.01||datum.value==0.1||datum.value==1", "value": -17}, "value": -9}}},
"y": {"field": "n", "type": "quantitative",
 "axis": {"orient": "right", "values": [0.0001,0.0002,0.0003,0.0004,0.0005,0.0006,0.0007,0.0008,0.0009,0.001,0.002,0.003,0.004,0.005,0.006,0.007,0.008,0.009,0.01,0.02,0.03,0.04,0.05,0.06,0.07,0.08,0.09,0.1,0.2,0.3,0.4,0.5,0.6,0.7,0.8,0.9,1,2,3],
  "grid": false, "domain": false, "labels": false, "title": null, "tickColor": "black", "tickWidth": 1,
  "tickSize": {"condition": {"test": "datum.value==0.0001||datum.value==0.001||datum.value==0.01||datum.value==0.1||datum.value==1", "value": -27}, "value": -13}}}
}
},
{
"data": {"name": "greenline"},
"mark": {"type": "line", "color": "#5AD25A", "strokeWidth": 1.5},
"encoding": {
"x": {"field": "t", "type": "quantitative", "axis": null},
"y": {"field": "n", "type": "quantitative", "axis": null}
}
},
{
"data": {"name": "ann"},
"mark": {"type": "text", "font": "Lato", "fontSize": 44, "angle": 342.4, "align": "center", "baseline": "middle", "color": "black"},
"encoding": {
"x": {"field": "t", "type": "quantitative", "axis": null},
"y": {"field": "n", "type": "quantitative", "axis": null},
"text": {"field": "s", "type": "nominal"}
}
}
],
"resolve": {"axis": {"x": "independent", "y": "independent"}}
}
